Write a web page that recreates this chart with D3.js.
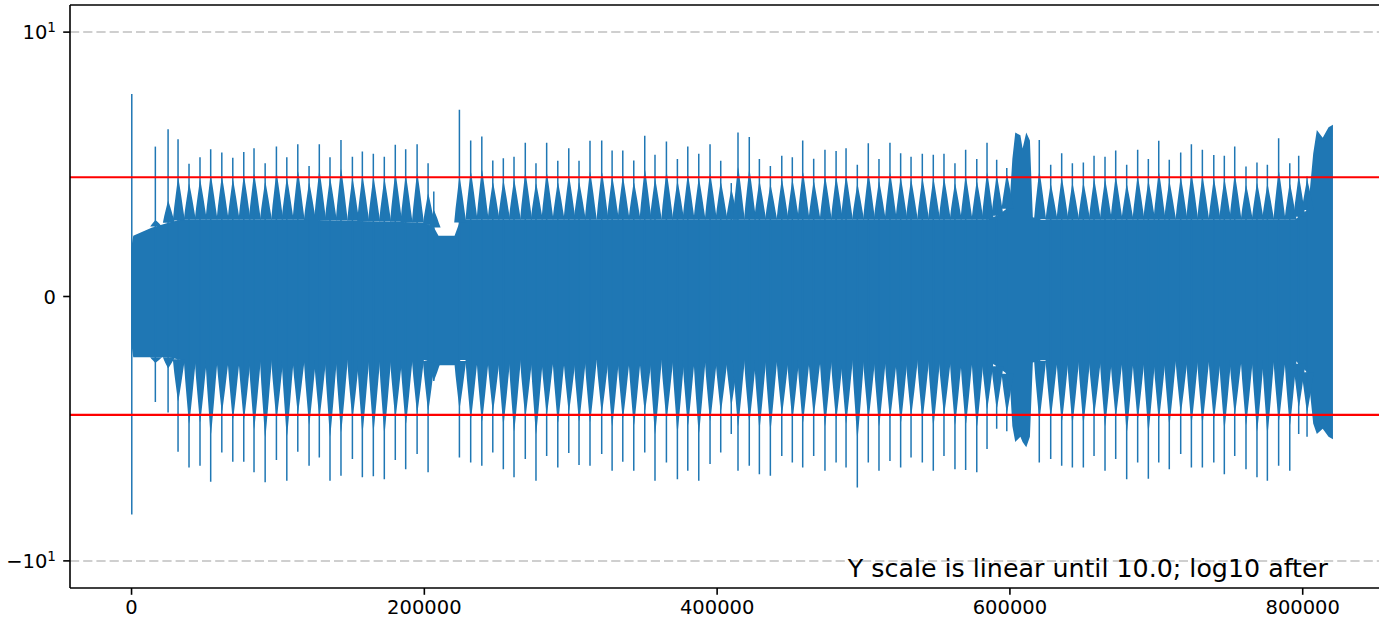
<!DOCTYPE html>
<html>
<head>
<meta charset="utf-8">
<script src="https://cdn.jsdelivr.net/npm/d3@7"></script>
<style>
  body { margin: 0; background: #fff; }
  svg { display: block; font-family: "DejaVu Sans", sans-serif; }
</style>
</head>
<body>
<div id="chart"></div>
<script>
// beats: sample index of each transient, with the tip values of its spike
const beatSample = [500, 16600, 25300, 32100, 39600, 47100, 54400, 62000, 69500, 77000,
  84000, 91600, 99300, 106400, 113900, 121600, 128600, 135900, 143400, 151200,
  158000, 165500, 173000, 180500, 187600, 195400, 202900, 206800, 224300, 232000,
  239600, 247100, 254300, 261600, 269300, 276600, 283900, 291500, 299000, 306000,
  313500, 321500, 328600, 335900, 343400, 350900, 357900, 365700, 373200, 380300,
  387800, 395500, 402800, 410000, 414600, 422300, 429200, 436700, 444500, 451700,
  458800, 466300, 474000, 481600, 488400, 496100, 503600, 510900, 518400, 525700,
  532800, 540500, 548000, 555300, 562800, 570100, 577700, 584700, 591300, 598200,
  620400, 628200, 635700, 643000, 650500, 657800, 665300, 672600, 680100, 687600,
  694900, 702000, 709200, 717000, 724300, 731800, 739600, 746800, 753900, 761600,
  769100, 776200, 783900, 791500, 797600, 803300];
const beatTop = [7.66, 5.67, 6.33, 5.95, 5.02, 5.27, 5.57, 5.45, 5.25, 5.47,
  5.61, 5.04, 5.67, 5.27, 5.76, 4.94, 5.76, 5.27, 5.92, 5.29,
  5.48, 5.40, 5.29, 5.74, 5.57, 5.76, 5.04, 3.97, 7.06, 5.90,
  6.05, 5.14, 5.23, 5.29, 5.82, 5.04, 5.82, 5.13, 5.61, 5.13,
  5.89, 5.90, 5.52, 5.52, 5.14, 6.08, 5.36, 5.86, 5.20, 5.67,
  5.40, 5.76, 5.13, 4.29, 6.20, 6.03, 5.20, 4.94, 5.32, 5.27,
  5.90, 5.21, 5.55, 5.50, 5.61, 4.98, 5.80, 5.20, 5.82, 5.42,
  5.29, 5.40, 5.36, 5.40, 5.04, 5.55, 5.20, 5.82, 5.17, 4.86,
  5.92, 4.98, 5.42, 5.04, 5.07, 5.32, 5.29, 5.52, 4.98, 5.55,
  5.20, 5.89, 5.17, 5.45, 5.76, 5.55, 5.35, 5.32, 5.67, 4.92,
  5.07, 4.98, 5.99, 5.04, 5.32, 4.54];
const beatBottom = [-8.25, -3.99, -4.39, -5.87, -6.47, -6.40, -7.01, -5.90, -6.25, -6.25,
  -6.65, -7.03, -6.18, -6.97, -5.87, -6.40, -6.09, -6.97, -6.78, -6.15,
  -6.84, -6.80, -6.91, -6.18, -6.53, -5.96, -6.65, -3.20, -6.09, -6.28,
  -6.40, -5.90, -6.53, -6.84, -6.15, -6.97, -6.03, -6.47, -5.92, -6.37,
  -6.40, -5.96, -6.59, -6.25, -6.59, -5.90, -6.97, -6.28, -6.91, -6.59,
  -6.97, -6.34, -5.90, -5.20, -6.59, -6.40, -6.72, -6.78, -6.03, -6.28,
  -6.47, -6.03, -6.59, -6.28, -6.47, -7.22, -6.28, -6.59, -6.22, -6.47,
  -6.09, -6.28, -6.59, -6.03, -6.53, -6.56, -6.65, -5.77, -5.00, -5.10,
  -6.28, -6.15, -6.40, -6.47, -6.47, -6.03, -6.59, -6.15, -6.91, -6.28,
  -6.89, -6.28, -6.53, -5.96, -6.47, -6.47, -6.28, -6.72, -6.03, -6.53,
  -6.84, -6.97, -6.40, -6.59, -5.20, -5.30];

// dense body of the signal: inner level and the level the beat swells reach
const bodySample = [0, 1500, 14000, 26000, 34000, 120000, 200000, 207000, 210000, 221000,
  225000, 585000, 593000, 600000, 602000, 604000, 607500, 609000, 611500, 614000,
  616000, 622000, 795000, 804000, 807500, 810000, 814000, 818000, 821000];
const bodyTop = [1.8, 2.3, 2.6, 2.8, 2.9, 2.9, 2.8, 2.6, 2.3, 2.3,
  2.9, 2.9, 3.1, 3.4, 5.2, 6.2, 6.1, 5.6, 6.2, 5.9,
  3.0, 2.9, 2.9, 3.3, 5.4, 6.3, 6.0, 6.4, 6.5];
const bodyBottom = [-1.7, -2.3, -2.3, -2.3, -2.4, -2.4, -2.4, -2.5, -2.6, -2.6,
  -2.4, -2.4, -2.7, -3.0, -4.9, -5.5, -5.3, -5.5, -5.7, -5.3,
  -2.5, -2.4, -2.4, -2.9, -4.8, -5.2, -5.0, -5.3, -5.4];
const swellTop = [1.8, 2.3, 2.7, 3.5, 4.5, 4.6, 4.5, 3.5, 2.5, 2.7,
  4.5, 4.5, 4.8, 5.0, 5.2, 6.2, 6.1, 5.6, 6.2, 5.9,
  4.5, 4.5, 4.5, 4.9, 5.4, 6.3, 6.0, 6.4, 6.5];
const swellBottom = [-1.7, -2.3, -2.5, -2.9, -4.8, -4.9, -4.8, -3.4, -3.0, -3.0,
  -4.8, -4.8, -4.9, -5.0, -4.9, -5.5, -5.3, -5.5, -5.7, -5.3,
  -4.8, -4.8, -4.8, -5.0, -4.8, -5.2, -5.0, -5.3, -5.4];

const limitLines = [4.51, -4.48];
const decadeLines = [10, -10];
const xTicks = [0, 200000, 400000, 600000, 800000];
const yTicks = [10, 0, -10];
const xLimits = [-41700, 862700];
const yLimit = 13;
const linthresh = 10;
const note = "Y scale is linear until 10.0; log10 after";

// layout
const width = 1379, height = 620;
const plotLeft = 70, plotTop = 5, plotBottom = 588, plotW = 1324;
const blue = "#1f77b4";

const svg = d3.select("#chart").append("svg")
  .attr("width", width)
  .attr("height", height);

// matplotlib style symlog (base 10, linscale 1)
const linscaleAdj = 1 / (1 - 1 / 10);
function symlog(v) {
  const a = Math.abs(v);
  if (a <= linthresh) return v * linscaleAdj;
  return Math.sign(v) * linthresh * (linscaleAdj + Math.log10(a / linthresh));
}

const x = d3.scaleLinear().domain(xLimits).range([plotLeft, plotLeft + plotW]);
const yT = d3.scaleLinear().domain([symlog(-yLimit), symlog(yLimit)]).range([plotBottom, plotTop]);
const y = v => yT(symlog(v));

svg.append("clipPath").attr("id", "plot")
  .append("rect")
    .attr("x", plotLeft).attr("y", plotTop)
    .attr("width", plotW).attr("height", plotBottom - plotTop);

const plot = svg.append("g").attr("clip-path", "url(#plot)");

// dashed lines at +-10
plot.selectAll("line.decade")
  .data(decadeLines)
  .enter()
  .append("line")
    .attr("class", "decade")
    .attr("x1", plotLeft).attr("x2", plotLeft + plotW)
    .attr("y1", d => y(d)).attr("y2", d => y(d))
    .style("stroke", "#cfcfcf")
    .style("stroke-width", 2)
    .style("stroke-dasharray", "9.2,4");

// body of the signal
const idx = d3.range(bodySample.length);
plot.append("path")
  .datum(idx)
  .attr("fill", blue)
  .attr("d", d3.area()
    .x(i => x(bodySample[i]))
    .y0(i => y(bodyBottom[i]))
    .y1(i => y(bodyTop[i])));

// swells of the body around each beat, sized after the beat's spike
const innerTop = d3.scaleLinear().domain(bodySample).range(bodyTop);
const innerBottom = d3.scaleLinear().domain(bodySample).range(bodyBottom);
const outerTop = d3.scaleLinear().domain(bodySample).range(swellTop);
const outerBottom = d3.scaleLinear().domain(bodySample).range(swellBottom);
const sizeTop = d3.scaleLinear().domain([4.6, 6.2]).range([0.72, 1.25]).clamp(true);
const sizeBottom = d3.scaleLinear().domain([-5.6, -7.2]).range([0.72, 1.25]).clamp(true);

// leg outline: [pixel offset from the beat, fraction of the swell]
const leg = [[-5.2, 0], [-3.9, 0.3], [-2.5, 0.56], [-1.2, 0.8], [-0.4, 0.95], [0, 1],
  [0.6, 0.95], [1.8, 0.78], [3.4, 0.54], [5.0, 0.28], [6.8, 0]];

const line = d3.line();
function legPath(bx, v0, v1, k) {
  return line(leg.map(([dx, f]) => [bx + dx, y(v0 + k * f * (v1 - v0))])) + "Z";
}

plot.append("g")
  .attr("fill", blue)
  .selectAll("path")
  .data(beatSample)
  .enter()
  .append("path")
    .attr("d", (s, i) => {
      const bx = x(s);
      return legPath(bx, innerTop(s), outerTop(s), sizeTop(beatTop[i])) +
        legPath(bx, innerBottom(s), outerBottom(s), sizeBottom(beatBottom[i]));
    });

// spikes
plot.append("g")
  .selectAll("line")
  .data(beatSample)
  .enter()
  .append("line")
    .attr("x1", d => x(d)).attr("x2", d => x(d))
    .attr("y1", (d, i) => y(beatBottom[i]))
    .attr("y2", (d, i) => y(beatTop[i]))
    .style("stroke", blue)
    .style("stroke-width", 1.5);

// red limit lines
plot.selectAll("line.limit")
  .data(limitLines)
  .enter()
  .append("line")
    .attr("class", "limit")
    .attr("x1", plotLeft).attr("x2", plotLeft + plotW)
    .attr("y1", d => y(d)).attr("y2", d => y(d))
    .style("stroke", "red")
    .style("stroke-width", 2.2);

// note text
svg.append("text")
  .attr("x", 1328)
  .attr("y", 577)
  .attr("text-anchor", "end")
  .style("font-size", "25.3px")
  .style("fill", "#000")
  .text(note);

// spines
svg.append("g")
  .style("stroke", "#000")
  .style("stroke-width", 1.6)
  .selectAll("line")
  .data([[plotLeft, plotTop, plotLeft, plotBottom],
         [plotLeft, plotTop, plotLeft + plotW, plotTop],
         [plotLeft, plotBottom, plotLeft + plotW, plotBottom]])
  .enter()
  .append("line")
    .attr("x1", d => d[0]).attr("y1", d => d[1])
    .attr("x2", d => d[2]).attr("y2", d => d[3]);

// x axis
const xAxis = svg.append("g")
  .attr("transform", "translate(0," + plotBottom + ")")
  .call(d3.axisBottom(x).tickValues(xTicks).tickFormat(d3.format("d")).tickSize(6.8).tickPadding(5));
xAxis.select(".domain").remove();
xAxis.selectAll("line").style("stroke", "#000").style("stroke-width", 1.6);
xAxis.selectAll("text")
  .style("font-family", "DejaVu Sans")
  .style("font-size", "19.5px")
  .style("fill", "#000");

// y axis (ticks + mathtext style labels)
const yAxis = svg.append("g");
yAxis.selectAll("line")
  .data(yTicks)
  .enter()
  .append("line")
    .attr("x1", plotLeft - 6.8).attr("x2", plotLeft)
    .attr("y1", d => y(d)).attr("y2", d => y(d))
    .style("stroke", "#000")
    .style("stroke-width", 1.6);

const ylab = yAxis.selectAll("text")
  .data(yTicks)
  .enter()
  .append("text")
    .attr("x", 56)
    .attr("y", d => y(d) + 7.2)
    .attr("text-anchor", "end")
    .style("font-size", "19.5px")
    .style("fill", "#000");

ylab.each(function(d) {
  const t = d3.select(this);
  if (d === 0) { t.text("0"); return; }
  t.append("tspan").text((d < 0 ? "\u2212" : "") + "10");
  t.append("tspan")
    .attr("dy", -7.5)
    .style("font-size", "13.6px")
    .text("1");
});
</script>
</body>
</html>
